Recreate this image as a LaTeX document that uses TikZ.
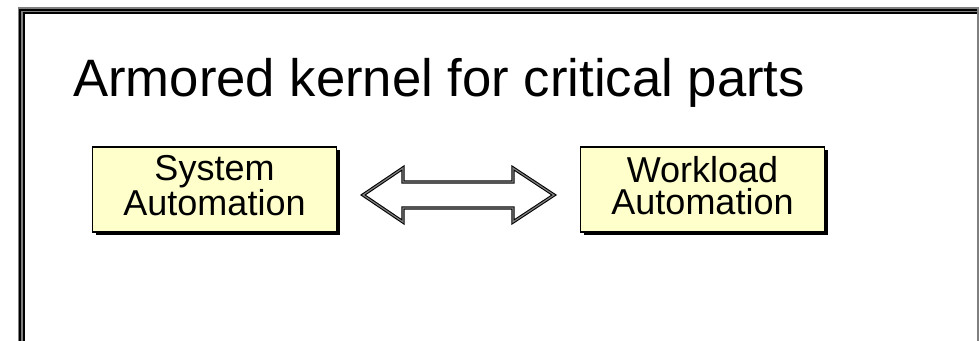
\documentclass[tikz,border=0pt]{standalone}
\usepackage{fontspec}
\setmainfont{Liberation Sans}
\usepackage{tikz}
\usetikzlibrary{shadows}

\definecolor{boxyellow}{RGB}{255,255,204}
\definecolor{framegray}{RGB}{128,128,128}

\begin{document}
\begin{tikzpicture}[x=0.75pt,y=0.75pt,yscale=-1,xscale=1,
	autobox/.style={draw, line width=1.1pt, fill=boxyellow, minimum width=183pt, minimum height=63.75pt,
		inner sep=0pt, align=center, font=\fontsize{27}{24.5}\selectfont, text depth=6pt,
		drop shadow={shadow xshift=2.25pt, shadow yshift=-2.25pt, fill=black, opacity=1}}]
\useasboundingbox (0,0) rectangle (979,341);

%Shape: Frame
\draw [framegray, line width=5.25pt]   (21,341) -- (21,10.5) -- (979,10.5) ;
\draw [line width=1.2pt]   (19.8,341) -- (19.8,9.8) -- (979,9.8) ;
\draw [line width=1.5pt]   (23.5,341) -- (23.5,13) -- (979,13) ;
\draw [framegray, line width=0.9pt]   (978,7) -- (978,341) ;

% Text Node
\draw (73,97) node [anchor=base west][inner sep=0pt] (title) {\fontsize{39.5}{45}\selectfont Armored kernel for critical parts};

% Box Nodes
\node [autobox] (sysauto) at (214.5,189.5) {System\\Automation};
\node [autobox] (wlauto) at (702.5,189.5) {Workload\\Automation};

%Shape: Left Right Arrow
\draw [fill=white, double=framegray, double distance=0.9pt, line width=0.8pt, line join=miter]
	(363,195) -- (403,168) -- (403,182) -- (513,182) -- (513,168) -- (554,195) -- (513,222) -- (513,208) -- (403,208) -- (403,222) -- cycle ;

\end{tikzpicture}
\end{document}
